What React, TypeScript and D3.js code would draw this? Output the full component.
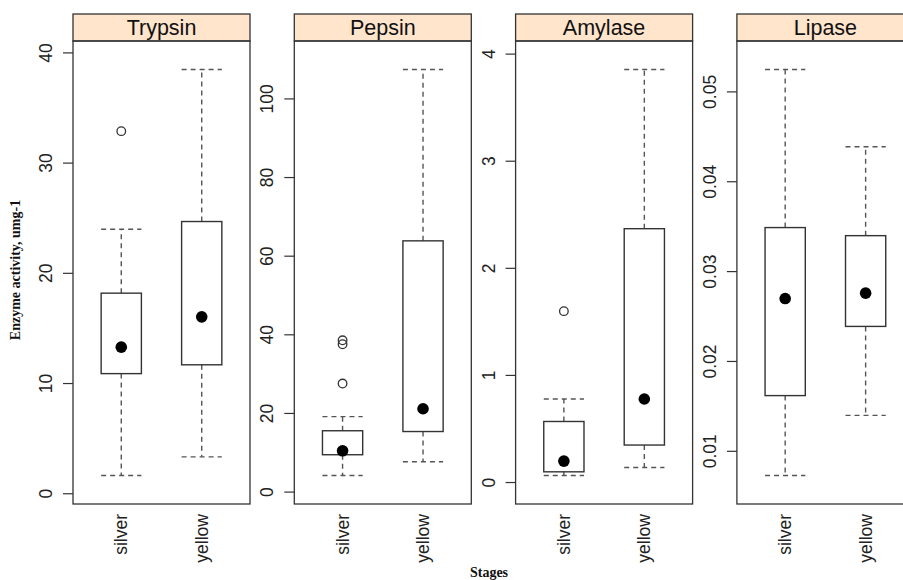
import React from 'react';
import * as d3 from 'd3';

// enzyme panels and the two stages on each x axis
const enzymes = ['Trypsin', 'Pepsin', 'Amylase', 'Lipase'];
const stages = ['silver', 'yellow'];

// box statistics, one pair [silver, yellow] per enzyme
const lowerWhisker = [[1.65, 3.35], [4.2, 7.7], [0.065, 0.14], [0.0073, 0.014]];
const q1 = [[10.9, 11.7], [9.5, 15.4], [0.1, 0.35], [0.0162, 0.0239]];
const median = [[13.3, 16.05], [10.5, 21.2], [0.2, 0.78], [0.027, 0.0276]];
const q3 = [[18.2, 24.7], [15.6, 63.9], [0.57, 2.37], [0.0349, 0.034]];
const upperWhisker = [[24.0, 38.5], [19.2, 107.5], [0.78, 3.857], [0.0525, 0.0439]];
const outliers = [[[32.9], []], [[38.6, 37.6, 27.6], []], [[1.6], []], [[], []]];

// y tick labels per panel
const yTicks = [
  [0, 10, 20, 30, 40],
  [0, 20, 40, 60, 80, 100],
  [0, 1, 2, 3, 4],
  [0.01, 0.02, 0.03, 0.04, 0.05],
];

const W = 903;
const H = 580;
const LEFT0 = 73;
const PANEL_W = 177;
const PANEL_STEP = 221.3;
const STRIP_TOP = 14;
const TOP = 41;
const BOTTOM = 504;

const sans = '"Liberation Sans", Arial, Helvetica, sans-serif';
const serif = '"Liberation Serif", "Times New Roman", serif';
const dash = '5,4';

const Panel = ({ i }: { i: number }) => {
  const left = LEFT0 + i * PANEL_STEP;
  const right = left + PANEL_W;

  // lattice-style 7% padding around the data range
  const all = [
    ...lowerWhisker[i], ...upperWhisker[i],
    ...outliers[i][0], ...outliers[i][1],
  ];
  const [lo, hi] = d3.extent(all) as [number, number];
  const pad = (hi - lo) * 0.07;
  const y = d3.scaleLinear().domain([lo - pad, hi + pad]).range([BOTTOM, TOP]);
  const x = d3.scalePoint<string>().domain(stages).range([left, right]).padding(0.6);
  const boxW = x.step() * 0.5;
  const fmt = i === 3 ? d3.format('.2f') : d3.format('d');

  return (
    <g>
      {/* strip */}
      <rect x={left} y={STRIP_TOP} width={PANEL_W} height={TOP - STRIP_TOP}
        fill="#ffe5cc" stroke="#333" strokeWidth={1.3} />
      <text x={(left + right) / 2} y={35} textAnchor="middle" fontSize={21.5}
        fontFamily={sans} fill="#111">{enzymes[i]}</text>

      {/* panel frame */}
      <rect x={left} y={TOP} width={PANEL_W} height={BOTTOM - TOP}
        fill="none" stroke="#333" strokeWidth={1.3} />

      {/* y axis */}
      {yTicks[i].map(t => (
        <g key={t}>
          <line x1={left - 10} x2={left} y1={y(t)} y2={y(t)} stroke="#333" strokeWidth={1.2} />
          <text transform={`translate(${left - 21},${y(t)}) rotate(-90)`} textAnchor="middle"
            fontSize={17.5} fontFamily={sans} fill="#222">{fmt(t)}</text>
        </g>
      ))}

      {/* x labels */}
      {stages.map(s => (
        <text key={s} transform={`translate(${(x(s) as number) + 6},514) rotate(-90)`}
          textAnchor="end" fontSize={17.5} fontFamily={sans} fill="#222">{s}</text>
      ))}

      {/* boxes */}
      {stages.map((s, j) => {
        const cx = x(s) as number;
        return (
          <g key={s}>
            <line x1={cx} x2={cx} y1={y(q3[i][j])} y2={y(upperWhisker[i][j])}
              stroke="#555" strokeWidth={1.4} strokeDasharray={dash} />
            <line x1={cx} x2={cx} y1={y(q1[i][j])} y2={y(lowerWhisker[i][j])}
              stroke="#555" strokeWidth={1.4} strokeDasharray={dash} />
            <line x1={cx - boxW / 2} x2={cx + boxW / 2} y1={y(upperWhisker[i][j])} y2={y(upperWhisker[i][j])}
              stroke="#555" strokeWidth={1.4} strokeDasharray={dash} />
            <line x1={cx - boxW / 2} x2={cx + boxW / 2} y1={y(lowerWhisker[i][j])} y2={y(lowerWhisker[i][j])}
              stroke="#555" strokeWidth={1.4} strokeDasharray={dash} />
            <rect x={cx - boxW / 2} y={y(q3[i][j])} width={boxW} height={y(q1[i][j]) - y(q3[i][j])}
              fill="none" stroke="#333" strokeWidth={1.4} />
            <circle cx={cx} cy={y(median[i][j])} r={5.8} fill="#000" />
            {outliers[i][j].map((o, k) => (
              <circle key={k} cx={cx} cy={y(o)} r={4.3} fill="none" stroke="#333" strokeWidth={1.3} />
            ))}
          </g>
        );
      })}
    </g>
  );
};

const App = () => {
  return (
    <svg width={W} height={H} style={{ position: 'absolute', left: 0, top: 0, background: '#fff' }}>
      <rect width={W} height={H} fill="#fff" />
      {enzymes.map((e, i) => <Panel key={e} i={i} />)}
      <text transform="translate(20,270) rotate(-90)" textAnchor="middle" fontSize={14}
        fontWeight="bold" fontFamily={serif} fill="#111">Enzyme activity, umg-1</text>
      <text x={489} y={577} textAnchor="middle" fontSize={14} fontWeight="bold"
        fontFamily={serif} fill="#111">Stages</text>
    </svg>
  );
};

export default App;
